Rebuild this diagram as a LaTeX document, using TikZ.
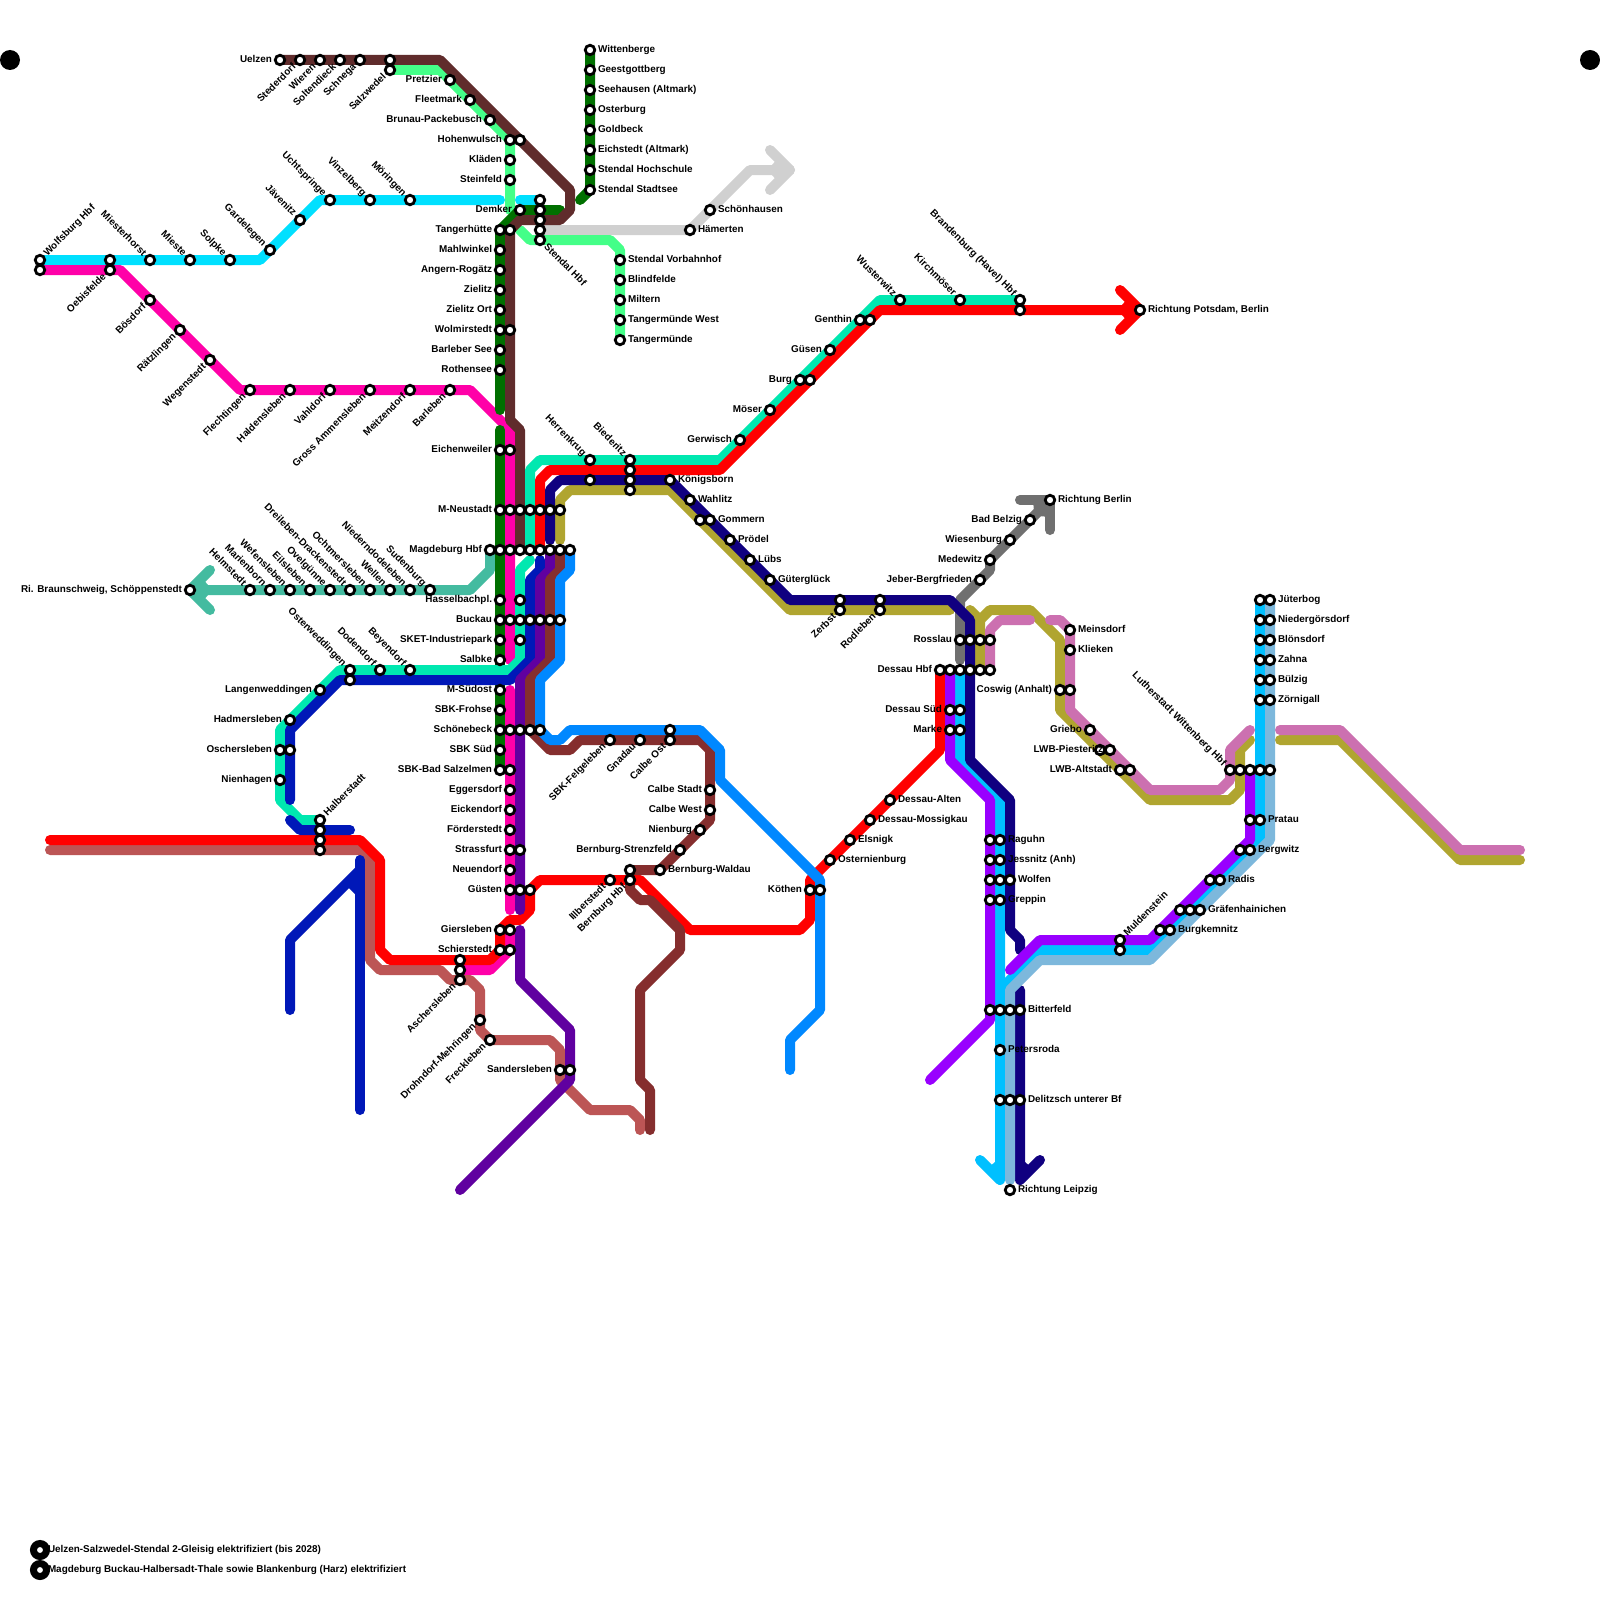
\documentclass[tikz,border=0pt]{standalone}
\usepackage{fontspec}
\setmainfont{Liberation Sans}
\definecolor{cCyan}{HTML}{00E0FF}
\definecolor{cMag}{HTML}{FF00A8}
\definecolor{cBrown}{HTML}{602C2C}
\definecolor{cLGreen}{HTML}{44FF88}
\definecolor{cDGreen}{HTML}{007000}
\definecolor{cTeal}{HTML}{00E8B0}
\definecolor{cRed}{HTML}{FF0000}
\definecolor{cNavy}{HTML}{100080}
\definecolor{cOlive}{HTML}{B0A530}
\definecolor{cBlue}{HTML}{0018B8}
\definecolor{cPurple}{HTML}{6000A0}
\definecolor{cBrownB}{HTML}{852E2E}
\definecolor{cAzure}{HTML}{0088FF}
\definecolor{cBrick}{HTML}{BC5555}
\definecolor{cSky}{HTML}{00C0FF}
\definecolor{cViolet}{HTML}{9900FF}
\definecolor{cLBlue}{HTML}{7DB8DC}
\definecolor{cPink}{HTML}{CC70B0}
\definecolor{cGray}{HTML}{707070}
\definecolor{cSilver}{HTML}{D0D0D0}
\definecolor{cSea}{HTML}{44BBA0}
\tikzset{
  trk/.style={line width=5pt,line cap=round,line join=round,draw=#1},
  stationdot/.style={circle,draw=black,fill=white,line width=1.4pt,inner sep=0pt,outer sep=0pt,minimum size=4.75pt},
  bigdot/.style={circle,draw=black,fill=white,line width=3.5pt,inner sep=0pt,outer sep=0pt,minimum size=6.5pt},
  blackdot/.style={circle,fill=black,inner sep=0pt,outer sep=0pt,minimum size=10pt},
  lbl/.style={inner sep=0pt,outer sep=0pt,font=\fontsize{4.95}{6}\selectfont\bfseries,text=black}
}
% x y text : left, right, up-left, low-left, up-right, low-right
\newcommand{\lW}[3]{\node[lbl,anchor=base east] (tw#1-#2) at (#1-8,#2+2.6) {#3};}
\newcommand{\lE}[3]{\node[lbl,anchor=base west] (te#1-#2) at (#1+8,#2+2.6) {#3};}
\newcommand{\lUL}[3]{\node[lbl,rotate=-45,anchor=base east] (tul#1-#2) at (#1-7.5,#2-3.5) {#3};}
\newcommand{\lLL}[3]{\node[lbl,rotate=45,anchor=base east] (tll#1-#2) at (#1-3.5,#2+7.5) {#3};}
\newcommand{\lUR}[3]{\node[lbl,rotate=45,anchor=base west] (tur#1-#2) at (#1+7.5,#2-3.5) {#3};}
\newcommand{\lLR}[3]{\node[lbl,rotate=-45,anchor=base west] (tlr#1-#2) at (#1+3.5,#2+7.5) {#3};}
\begin{document}
\begin{tikzpicture}[x=0.5pt,y=-0.5pt]
\fill[white] (0,0) rectangle (1600,1600);
\useasboundingbox (0,0) rectangle (1600,1600);
% silver
\draw[trk=cSilver] (540,230) -- (690,230) -- (750,170) -- (790,170);
\draw[trk=cSilver] (770,150) -- (790,170) -- (770,190);
\fill[cSilver] (790,170) -- (778,158) -- (772,165) -- (772,175) -- (778,182) -- cycle;
% light green
\draw[trk=cLGreen] (390,70) -- (440,70) -- (510,140) -- (510,210);
\draw[trk=cLGreen] (520,230) -- (530,240) -- (610,240) -- (620,250) -- (620,340);
% cyan
\draw[trk=cCyan] (40,260) -- (260,260) -- (320,200) -- (500,200);
\draw[trk=cCyan] (520,200) -- (540,200);
% magenta
\draw[trk=cMag] (40,270) -- (120,270) -- (240,390) -- (470,390) -- (510,430) -- (510,660);
\draw[trk=cMag] (510,690) -- (510,910);
\draw[trk=cMag] (510,930) -- (510,950) -- (490,970) -- (460,970);
% sea green
\draw[trk=cSea] (210,570) -- (190,590) -- (210,610);
\draw[trk=cSea] (190,590) -- (470,590) -- (490,570) -- (490,550);
\fill[cSea] (190,590) -- (202,578) -- (208,585) -- (208,595) -- (202,602) -- cycle;
% brick
\draw[trk=cBrick] (50,850) -- (360,850) -- (370,860) -- (370,960) -- (380,970) -- (440,970) -- (450,980) -- (470,980) -- (480,990) -- (480,1030) -- (490,1040) -- (550,1040) -- (560,1050) -- (560,1080) -- (590,1110) -- (630,1110) -- (640,1120) -- (640,1130);
% dark green
\draw[trk=cDGreen] (590,50) -- (590,190) -- (580,200);
\draw[trk=cDGreen] (500,410) -- (500,230) -- (520,210) -- (560,210);
\draw[trk=cDGreen] (500,430) -- (500,770);
% brown
\draw[trk=cBrown] (280,60) -- (440,60) -- (570,190) -- (570,210) -- (560,220) -- (520,220) -- (510,230) -- (510,420) -- (520,430) -- (520,550);
% teal
\draw[trk=cTeal] (1020,300) -- (880,300) -- (720,460) -- (540,460) -- (530,470) -- (530,550);
\draw[trk=cTeal] (530,560) -- (520,570) -- (520,660) -- (510,670) -- (340,670) -- (280,730) -- (280,800) -- (300,820) -- (320,820);
% red
\draw[trk=cRed] (1140,310) -- (880,310) -- (720,470) -- (550,470) -- (540,480) -- (540,550);
\draw[trk=cRed] (1120,290) -- (1140,310) -- (1120,330);
\fill[cRed] (1140,310) -- (1128,298) -- (1122,305) -- (1122,315) -- (1128,322) -- cycle;
\draw[trk=cRed] (50,840) -- (360,840) -- (380,860) -- (380,950) -- (390,960) -- (490,960) -- (500,950) -- (500,930) -- (510,920) -- (520,920) -- (530,910) -- (530,890) -- (540,880) -- (640,880) -- (690,930) -- (800,930) -- (810,920) -- (810,880) -- (940,750) -- (940,670);
% grey
\draw[trk=cGray] (1020,500) -- (1050,500) -- (1050,530);
\draw[trk=cGray] (1050,500) -- (990,560) -- (990,570) -- (960,600) -- (960,660);
\fill[cGray] (1050,500) -- (1033,500) -- (1033.8,509.2) -- (1040.8,516.2) -- (1050,517) -- cycle;
% olive
\draw[trk=cOlive] (560,540) -- (560,500) -- (570,490) -- (670,490) -- (790,610) -- (950,610);
\draw[trk=cOlive] (970,610) -- (980,620) -- (980,670);
\draw[trk=cOlive] (980,620) -- (990,610) -- (1030,610) -- (1060,640) -- (1060,710) -- (1150,800) -- (1230,800) -- (1240,790) -- (1240,750) -- (1250,740);
\draw[trk=cOlive] (1280,740) -- (1340,740) -- (1460,860) -- (1520,860);
% pink
\draw[trk=cPink] (990,670) -- (990,630) -- (1000,620) -- (1030,620);
\draw[trk=cPink] (1050,620) -- (1060,620) -- (1070,630) -- (1070,710) -- (1150,790) -- (1220,790) -- (1230,780) -- (1230,750) -- (1250,730);
\draw[trk=cPink] (1280,730) -- (1340,730) -- (1460,850) -- (1520,850);
% sky
\draw[trk=cSky] (960,670) -- (960,760) -- (1000,800) -- (1000,1180) -- (980,1160);
\fill[cSky] (1000,1180) -- (988,1168) -- (995,1162) -- (1000,1162) -- cycle;
\draw[trk=cSky] (1000,990) -- (1040,950) -- (1150,950) -- (1260,840) -- (1260,600);
% navy
\draw[trk=cNavy] (550,540) -- (550,490) -- (560,480) -- (670,480) -- (790,600) -- (950,600) -- (970,620) -- (970,760) -- (1010,800) -- (1010,930) -- (1020,940) -- (1020,950);
\draw[trk=cNavy] (1020,990) -- (1020,1180) -- (1040,1160);
\fill[cNavy] (1020,1180) -- (1032,1168) -- (1025,1162) -- (1020,1162) -- cycle;
% violet
\draw[trk=cViolet] (950,670) -- (950,760) -- (990,800) -- (990,1020) -- (930,1080);
\draw[trk=cViolet] (1010,970) -- (1040,940) -- (1150,940) -- (1250,840) -- (1250,770);
% light blue
\draw[trk=cLBlue] (1270,600) -- (1270,840) -- (1150,960) -- (1040,960) -- (1010,990) -- (1010,1180);
% blue
\draw[trk=cBlue] (540,560) -- (540,570) -- (530,580) -- (530,660) -- (510,680) -- (340,680) -- (290,730) -- (290,800);
\draw[trk=cBlue] (290,820) -- (300,830) -- (350,830);
\draw[trk=cBlue] (360,860) -- (360,1110);
\draw[trk=cBlue] (290,1010) -- (290,940) -- (360,870);
\draw[trk=cBlue] (360,892) -- (352,884);
% purple
\draw[trk=cPurple] (550,550) -- (550,570) -- (540,580) -- (540,660) -- (520,680) -- (520,910);
\draw[trk=cPurple] (520,930) -- (520,980) -- (570,1030) -- (570,1080) -- (460,1190);
% brown b
\draw[trk=cBrownB] (560,550) -- (560,570) -- (550,580) -- (550,660) -- (530,680) -- (530,730) -- (550,750) -- (570,750) -- (580,740) -- (700,740) -- (710,750) -- (710,820) -- (660,870) -- (630,870);
\draw[trk=cBrownB] (630,880) -- (630,890) -- (640,900) -- (650,900) -- (680,930) -- (680,950) -- (640,990) -- (640,1080) -- (650,1090) -- (650,1130);
% azure
\draw[trk=cAzure] (570,550) -- (570,570) -- (560,580) -- (560,660) -- (540,680) -- (540,730) -- (550,740) -- (560,740) -- (570,730) -- (700,730) -- (720,750) -- (720,780) -- (820,880) -- (820,1010) -- (790,1040) -- (790,1070);
% black dots and legend markers
\node[blackdot] (dotl) at (10,60) {};
\node[blackdot] (dotr) at (1590,60) {};
\node[bigdot] (lega) at (40,1550) {};
\node[bigdot] (legb) at (40,1570) {};
% stations
\foreach \x/\y in {
 280/60,300/60,320/60,340/60,360/60,390/60,390/70,450/80,470/100,490/120,510/140,520/140,510/160,510/180,520/210,
 540/200,540/210,540/220,540/230,540/240,
 590/50,590/70,590/90,590/110,590/130,590/150,590/170,590/190,
 620/260,620/280,620/300,620/320,620/340,690/230,710/210,
 40/260,40/270,110/260,110/270,150/260,190/260,230/260,270/250,300/220,330/200,370/200,410/200,
 150/300,180/330,210/360,250/390,290/390,330/390,370/390,410/390,450/390,
 500/230,510/230,500/250,500/270,500/290,500/310,500/330,510/330,500/350,500/370,500/450,510/450,
 500/510,510/510,520/510,530/510,540/510,550/510,560/510,
 490/550,500/550,510/550,520/550,530/550,540/550,550/550,560/550,570/550,
 500/600,520/600,500/620,510/620,520/620,530/620,540/620,550/620,560/620,500/640,520/640,500/660,
 500/690,500/710,500/730,510/730,520/730,530/730,540/730,500/750,500/770,510/770,
 510/790,510/810,510/830,510/850,520/850,510/870,510/890,520/890,530/890,
 500/930,510/930,500/950,510/950,460/960,460/970,460/980,480/1020,490/1040,560/1070,570/1070,
 190/590,250/590,270/590,290/590,310/590,330/590,350/590,370/590,390/590,410/590,430/590,
 350/670,350/680,380/670,410/670,320/690,290/720,280/750,290/750,280/780,320/820,320/830,320/840,320/850,
 590/460,590/480,630/460,630/470,630/480,630/490,670/480,690/500,700/520,710/520,730/540,750/560,770/580,
 740/440,770/410,800/380,810/380,830/350,860/320,870/320,900/300,960/300,1020/300,1020/310,1140/310,
 610/740,640/740,670/730,670/740,710/790,710/810,700/830,680/850,660/870,630/870,630/880,610/880,810/890,820/890,
 840/600,840/610,880/600,880/610,
 960/640,970/640,980/640,990/640,940/670,950/670,960/670,970/670,980/670,990/670,950/710,960/710,950/730,960/730,
 980/580,990/560,1010/540,1030/520,1050/500,1070/630,1070/650,1060/690,1070/690,1090/730,1100/750,1110/750,1120/770,1130/770,
 890/800,870/820,850/840,830/860,
 990/840,1000/840,990/860,1000/860,990/880,1000/880,1010/880,990/900,1000/900,
 990/1010,1000/1010,1010/1010,1020/1010,1000/1050,1000/1100,1010/1100,1020/1100,1010/1190,
 1120/940,1120/950,1160/930,1170/930,1180/910,1190/910,1200/910,1210/880,1220/880,1240/850,1250/850,1250/820,1260/820,
 1230/770,1240/770,1250/770,1260/770,1270/770,
 1260/600,1270/600,1260/620,1270/620,1260/640,1270/640,1260/660,1270/660,1260/680,1270/680,1260/700,1270/700}
 {\node[stationdot] (s\x-\y) at (\x,\y) {};}
% labels: north west area
\lW{280}{60}{Uelzen}
\lLL{300}{60}{Stederdorf}\lLL{320}{60}{Wieren}\lLL{340}{60}{Soltendieck}\lLL{360}{60}{Schnega}\lLL{390}{70}{Salzwedel}
\lW{450}{80}{Pretzier}\lW{470}{100}{Fleetmark}\lW{490}{120}{Brunau-Packebusch}\lW{510}{140}{Hohenwulsch}\lW{510}{160}{Kläden}\lW{510}{180}{Steinfeld}\lW{520}{210}{Demker}
\lLR{540}{240}{Stendal Hbf}
\lE{590}{50}{Wittenberge}\lE{590}{70}{Geestgottberg}\lE{590}{90}{Seehausen (Altmark)}\lE{590}{110}{Osterburg}\lE{590}{130}{Goldbeck}\lE{590}{150}{Eichstedt (Altmark)}\lE{590}{170}{Stendal Hochschule}\lE{590}{190}{Stendal Stadtsee}
\lE{620}{260}{Stendal Vorbahnhof}\lE{620}{280}{Blindfelde}\lE{620}{300}{Miltern}\lE{620}{320}{Tangermünde West}\lE{620}{340}{Tangermünde}
\lE{690}{230}{Hämerten}\lE{710}{210}{Schönhausen}
\lUR{40}{260}{Wolfsburg Hbf}\lLL{110}{270}{Oebisfelde}
\lUL{150}{260}{Miesterhorst}\lUL{190}{260}{Mieste}\lUL{230}{260}{Solpke}\lUL{270}{250}{Gardelegen}\lUL{300}{220}{Jävenitz}\lUL{330}{200}{Uchtspringe}\lUL{370}{200}{Vinzelberg}\lUL{410}{200}{Möringen}
\lLL{150}{300}{Bösdorf}\lLL{180}{330}{Rätzlingen}\lLL{210}{360}{Wegenstedt}\lLL{250}{390}{Flechtingen}\lLL{290}{390}{Haldensleben}\lLL{330}{390}{Vahldorf}\lLL{370}{390}{Gross Ammensleben}\lLL{410}{390}{Meitzendorf}\lLL{450}{390}{Barleben}
% central column
\lW{500}{230}{Tangerhütte}\lW{500}{250}{Mahlwinkel}\lW{500}{270}{Angern-Rogätz}\lW{500}{290}{Zielitz}\lW{500}{310}{Zielitz Ort}\lW{500}{330}{Wolmirstedt}\lW{500}{350}{Barleber See}\lW{500}{370}{Rothensee}\lW{500}{450}{Eichenweiler}\lW{500}{510}{M-Neustadt}\lW{490}{550}{Magdeburg Hbf}\lW{500}{600}{Hasselbachpl.}\lW{500}{620}{Buckau}\lW{500}{640}{SKET-Industriepark}\lW{500}{660}{Salbke}\lW{500}{690}{M-Südost}\lW{500}{710}{SBK-Frohse}\lW{500}{730}{Schönebeck}\lW{500}{750}{SBK Süd}\lW{500}{770}{SBK-Bad Salzelmen}
\lW{510}{790}{Eggersdorf}\lW{510}{810}{Eickendorf}\lW{510}{830}{Förderstedt}\lW{510}{850}{Strassfurt}\lW{510}{870}{Neuendorf}\lW{510}{890}{Güsten}\lW{500}{930}{Giersleben}\lW{500}{950}{Schierstedt}
\lLL{460}{980}{Aschersleben}\lLL{480}{1020}{Drohndorf-Mehringen}\lLL{490}{1040}{Freckleben}\lW{560}{1070}{Sandersleben}
% west
\lW{190}{590}{Ri. Braunschweig, Schöppenstedt}
\lUL{250}{590}{Helmstedt}\lUL{270}{590}{Marienborn}\lUL{290}{590}{Wefensleben}\lUL{310}{590}{Eilsleben}\lUL{330}{590}{Ovelgünne}\lUL{350}{590}{Dreileben-Drackenstedt}\lUL{370}{590}{Ochtmersleben}\lUL{390}{590}{Wellen}\lUL{410}{590}{Niederndodeleben}\lUL{430}{590}{Sudenburg}
\lUL{350}{670}{Osterweddingen}\lUL{380}{670}{Dodendorf}\lUL{410}{670}{Beyendorf}
\lW{320}{690}{Langenweddingen}\lW{290}{720}{Hadmersleben}\lW{280}{750}{Oschersleben}\lW{280}{780}{Nienhagen}\lUR{320}{820}{Halberstadt}
% east of Magdeburg
\lUL{590}{460}{Herrenkrug}\lUL{630}{460}{Biederitz}\lE{670}{480}{Königsborn}\lE{690}{500}{Wahlitz}\lE{710}{520}{Gommern}\lE{730}{540}{Prödel}\lE{750}{560}{Lübs}\lE{770}{580}{Güterglück}
\lW{740}{440}{Gerwisch}\lW{770}{410}{Möser}\lW{800}{380}{Burg}\lW{830}{350}{Güsen}\lW{860}{320}{Genthin}
\lUL{900}{300}{Wusterwitz}\lUL{960}{300}{Kirchmöser}\lUL{1020}{300}{Brandenburg (Havel) Hbf}\lE{1140}{310}{Richtung Potsdam, Berlin}
\lLL{610}{740}{SBK-Felgeleben}\lLL{640}{740}{Gnadau}\lLL{670}{740}{Calbe Ost}
\lW{710}{790}{Calbe Stadt}\lW{710}{810}{Calbe West}\lW{700}{830}{Nienburg}\lW{680}{850}{Bernburg-Strenzfeld}\lE{660}{870}{Bernburg-Waldau}
\lLL{630}{880}{Bernburg Hbf}\lLL{610}{880}{Illberstedt}\lW{810}{890}{Köthen}
\lLL{840}{610}{Zerbst}\lLL{880}{610}{Rodleben}
\lW{960}{640}{Rosslau}\lW{940}{670}{Dessau Hbf}\lW{950}{710}{Dessau Süd}\lW{950}{730}{Marke}
\lW{980}{580}{Jeber-Bergfrieden}\lW{990}{560}{Medewitz}\lW{1010}{540}{Wiesenburg}\lW{1030}{520}{Bad Belzig}\lE{1050}{500}{Richtung Berlin}
\lE{1070}{630}{Meinsdorf}\lE{1070}{650}{Klieken}\lW{1060}{690}{Coswig (Anhalt)}\lW{1090}{730}{Griebo}
\node[lbl,anchor=base east] (twpiest) at (1103,752.6) {LWB-Piesteritz};
\lW{1120}{770}{LWB-Altstadt}
\lE{890}{800}{Dessau-Alten}\lE{870}{820}{Dessau-Mossigkau}\lE{850}{840}{Elsnigk}\lE{830}{860}{Osternienburg}
\lE{1000}{840}{Raguhn}\lE{1000}{860}{Jessnitz (Anh)}\lE{1010}{880}{Wolfen}\lE{1000}{900}{Greppin}\lE{1020}{1010}{Bitterfeld}\lE{1000}{1050}{Petersroda}\lE{1020}{1100}{Delitzsch unterer Bf}\lE{1010}{1190}{Richtung Leipzig}
\lUR{1120}{940}{Muldenstein}\lE{1170}{930}{Burgkemnitz}\lE{1200}{910}{Gräfenhainichen}\lE{1220}{880}{Radis}\lE{1250}{850}{Bergwitz}\lE{1260}{820}{Pratau}
\lUL{1230}{770}{Lutherstadt Wittenberg Hbf}
\lE{1270}{600}{Jüterbog}\lE{1270}{620}{Niedergörsdorf}\lE{1270}{640}{Blönsdorf}\lE{1270}{660}{Zahna}\lE{1270}{680}{Bülzig}\lE{1270}{700}{Zörnigall}
\lE{40}{1550}{Uelzen-Salzwedel-Stendal 2-Gleisig elektrifiziert (bis 2028)}
\lE{40}{1570}{Magdeburg Buckau-Halbersadt-Thale sowie Blankenburg (Harz) elektrifiziert}
\end{tikzpicture}
\end{document}
